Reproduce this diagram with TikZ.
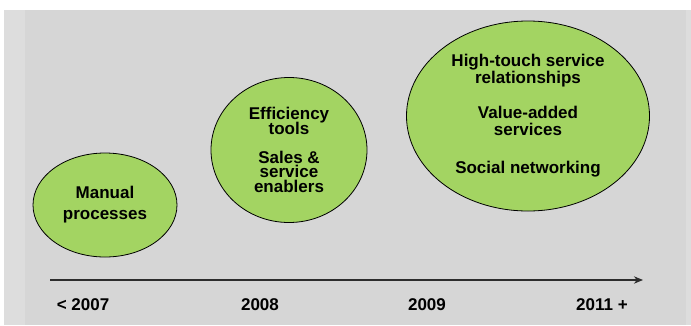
\documentclass[tikz,border=0pt]{standalone}
\usepackage{fontspec}
\setmainfont{Liberation Sans}
\usepackage{xcolor}
\usetikzlibrary{arrows.meta, positioning, shapes.geometric}

\definecolor{panelgray}{RGB}{214,214,214}
\definecolor{edgegray}{RGB}{221,221,221}
\definecolor{stagegreen}{RGB}{163,212,98}
\definecolor{axisgray}{RGB}{45,45,45}

\begin{document}
\begin{tikzpicture}[
        x=1pt, y=-1pt,
        stage/.style={ellipse, draw=black, line width=0.8pt, fill=stagegreen, inner sep=0pt, align=center, font=\bfseries\fontsize{17}{17}\selectfont},
        year/.style={font=\bfseries\fontsize{17}{17}\selectfont, inner sep=0pt},
        arrow/.style={-{Stealth[length=3.2mm, width=2.6mm]}, line width=1.2pt, draw=axisgray}
    ]
        \useasboundingbox (0,0) rectangle (691,325);
        % background panel
        \fill[white] (0,0) rectangle (691,325);
        \fill[edgegray] (4,10) rectangle (25,325);
        \fill[panelgray] (25,10) rectangle (686,325);
        \fill[edgegray] (686,10) rectangle (691,325);

        \node[stage, minimum width=144pt, minimum height=104pt,
            font=\bfseries\fontsize{17}{21}\selectfont] (s1) at (105,205)
            {Manual\\processes};
        \node[stage, minimum width=156pt, minimum height=145pt,
            font={\bfseries\fontsize{17}{14.5}\selectfont\lineskiplimit=-20pt}] (s2) at (289,150)
            {Efficiency\\tools\\[14.5pt]Sales \&\\service\\enablers};
        \node[stage, minimum width=243pt, minimum height=190pt] (s3) at (528,116)
            {High-touch service\\relationships\\[18pt]Value-added\\services\\[21pt]Social networking};

        \coordinate (t0) at (50,280);
        \coordinate (t1) at (643,280);
        \draw[arrow] (t0) -- (t1);

        \node[year] (y1) at (83,305) {< 2007};
        \node[year] (y2) at (260,305) {2008};
        \node[year] (y3) at (427,305) {2009};
        \node[year] (y4) at (602,305) {2011 +};
    \end{tikzpicture}
\end{document}
